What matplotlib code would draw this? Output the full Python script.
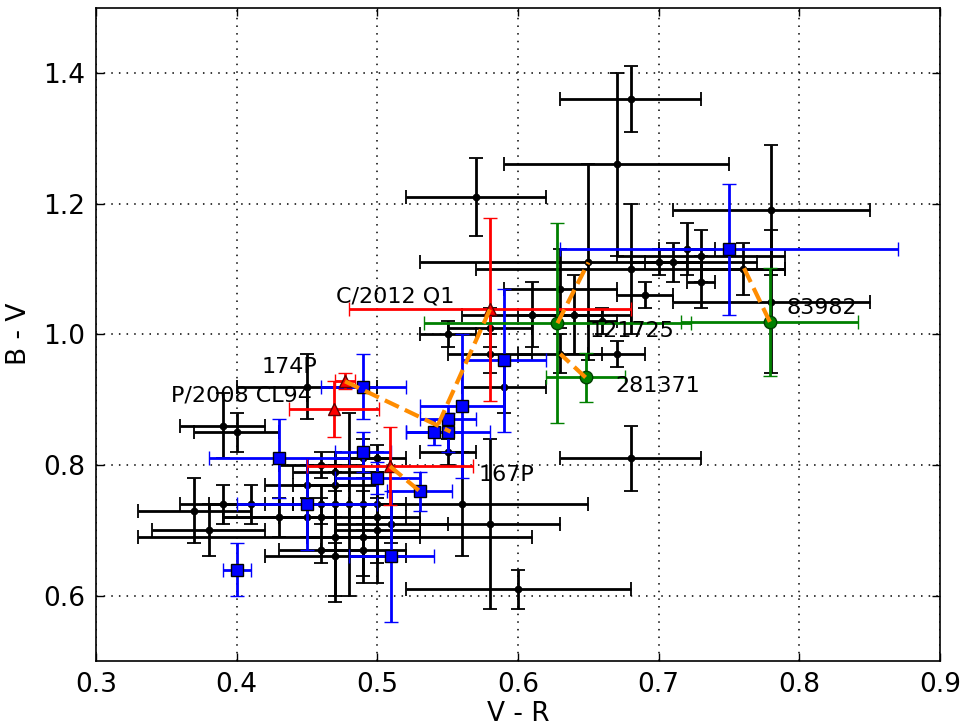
import matplotlib
matplotlib.use("Agg")
import matplotlib.pyplot as plt

# ---------------- data ----------------
# black field objects: x (V-R), y (B-V), xerr, yerr
bx = [0.39, 0.40, 0.37, 0.38, 0.39, 0.41, 0.43, 0.45, 0.46, 0.47, 0.45, 0.47, 0.49, 0.50,
      0.46, 0.47, 0.48, 0.49, 0.50, 0.45, 0.46, 0.50, 0.51, 0.50, 0.47, 0.49, 0.46, 0.49,
      0.47, 0.55, 0.56, 0.58, 0.60, 0.68, 0.59, 0.58, 0.58, 0.55, 0.57, 0.61, 0.63, 0.64,
      0.66, 0.63, 0.67, 0.65, 0.67, 0.68, 0.68, 0.70, 0.71, 0.72, 0.73, 0.73, 0.69, 0.78,
      0.78, 0.76]
by = [0.86, 0.85, 0.73, 0.70, 0.74, 0.74, 0.72, 0.92, 0.80, 0.79, 0.77, 0.77, 0.81, 0.81,
      0.74, 0.74, 0.74, 0.74, 0.74, 0.72, 0.72, 0.72, 0.71, 0.70, 0.69, 0.69, 0.67, 0.67,
      0.66, 0.82, 0.74, 0.71, 0.61, 0.81, 0.92, 0.97, 1.01, 1.00, 1.21, 1.03, 1.07, 1.03,
      1.02, 0.97, 0.97, 1.11, 1.26, 1.36, 1.10, 1.11, 1.11, 1.13, 1.12, 1.08, 1.06, 1.19,
      1.05, 1.10]
bxerr = [0.03, 0.03, 0.04, 0.04, 0.03, 0.03, 0.04, 0.05, 0.03, 0.03, 0.03, 0.03, 0.02, 0.02,
         0.03, 0.03, 0.03, 0.02, 0.02, 0.02, 0.07, 0.02, 0.04, 0.03, 0.14, 0.04, 0.03, 0.03,
         0.05, 0.02, 0.09, 0.05, 0.08, 0.05, 0.03, 0.03, 0.03, 0.02, 0.05, 0.05, 0.04, 0.04,
         0.01, 0.03, 0.02, 0.12, 0.08, 0.05, 0.11, 0.02, 0.02, 0.02, 0.06, 0.01, 0.02, 0.07,
         0.07, 0.03]
byerr = [0.05, 0.03, 0.05, 0.04, 0.03, 0.03, 0.03, 0.05, 0.02, 0.03, 0.03, 0.03, 0.03, 0.02,
         0.03, 0.06, 0.14, 0.04, 0.05, 0.03, 0.03, 0.10, 0.03, 0.05, 0.10, 0.07, 0.02, 0.04,
         0.06, 0.02, 0.08, 0.13, 0.03, 0.05, 0.04, 0.03, 0.03, 0.02, 0.06, 0.05, 0.06, 0.06,
         0.02, 0.03, 0.02, 0.15, 0.14, 0.05, 0.10, 0.02, 0.03, 0.04, 0.04, 0.04, 0.02, 0.10,
         0.11, 0.04]

# blue squares
sx = [0.40, 0.43, 0.45, 0.49, 0.49, 0.50, 0.53, 0.51, 0.54, 0.55, 0.55, 0.56, 0.59, 0.75]
sy = [0.64, 0.81, 0.74, 0.92, 0.82, 0.78, 0.76, 0.66, 0.85, 0.85, 0.87, 0.89, 0.96, 1.13]
sxerr = [0.01, 0.05, 0.05, 0.03, 0.02, 0.03, 0.023, 0.03, 0.02, 0.03, 0.02, 0.03, 0.03, 0.12]
syerr = [0.04, 0.06, 0.07, 0.05, 0.03, 0.025, 0.03, 0.10, 0.02, 0.03, 0.02, 0.11, 0.11, 0.10]

# red triangles (comets)
tname = ["174P", "P/2008 CL94", "167P", "C/2012 Q1"]
tx = [0.477, 0.469, 0.509, 0.580]
ty = [0.928, 0.886, 0.798, 1.038]
txerr = [0.007, 0.032, 0.059, 0.10]
tyerr = [0.012, 0.043, 0.060, 0.14]
tlabx = [0.418, 0.3535, 0.572, 0.4705]
tlaby = [0.940, 0.897, 0.775, 1.049]

# green circles
gname = ["121725", "281371", "83982"]
gx = [0.628, 0.648, 0.779]
gy = [1.017, 0.934, 1.019]
gxerr = [0.095, 0.028, 0.063]
gyerr = [0.153, 0.037, 0.083]
glabx = [0.6505, 0.669, 0.7905]
glaby = [0.996, 0.911, 1.031]

# orange dashed links: (x0, y0) -> (x1, y1)
lx0 = [0.779, 0.628, 0.648, 0.580, 0.477, 0.509]
ly0 = [1.019, 1.017, 0.934, 1.038, 0.928, 0.798]
lx1 = [0.760, 0.650, 0.630, 0.542, 0.552, 0.530]
ly1 = [1.104, 1.110, 0.970, 0.856, 0.851, 0.760]

xticks = [0.3, 0.4, 0.5, 0.6, 0.7, 0.8, 0.9]
yticks = [0.6, 0.8, 1.0, 1.2, 1.4]

# ---------------- plot ----------------
fig = plt.figure(figsize=(9.63, 7.25), dpi=100)
ax = fig.add_axes([0.0997, 0.0883, 0.8765, 0.9012])

common = dict(elinewidth=2, capsize=5, capthick=1.3, linestyle='none')

ax.errorbar(bx, by, xerr=bxerr, yerr=byerr, fmt='o', color='k', ms=4.5,
            ecolor='k', zorder=2, **common)
ax.errorbar(sx, sy, xerr=sxerr, yerr=syerr, fmt='s', mfc='#0000ff', mec='k', mew=1,
            ms=9, ecolor='#0000ff', zorder=3, **common)
ax.errorbar(tx, ty, xerr=txerr, yerr=tyerr, fmt='^', mfc='#ff0000', mec='#600000', mew=1,
            ms=9, ecolor='#ff0000', zorder=3, **common)
ax.errorbar(gx, gy, xerr=gxerr, yerr=gyerr, fmt='o', mfc='#008000', mec='#004000', mew=1,
            ms=9, ecolor='#008000', zorder=3, **common)

for a, b, c, d in zip(lx0, ly0, lx1, ly1):
    ax.plot([a, c], [b, d], '--', color='#ff8c00', lw=3, zorder=5)

for n, x, y in zip(tname, tlabx, tlaby):
    ax.text(x, y, n, fontsize=16, ha='left', va='baseline', zorder=6)
for n, x, y in zip(gname, glabx, glaby):
    ax.text(x, y, n, fontsize=16, ha='left', va='baseline', zorder=6)

ax.set_xlim(0.3, 0.9)
ax.set_ylim(0.5, 1.5)
ax.set_xticks(xticks)
ax.set_yticks(yticks)
ax.set_xticklabels([f"{v:.1f}" for v in xticks])
ax.set_yticklabels([f"{v:.1f}" for v in yticks])
ax.tick_params(direction='in', length=6, width=1, top=True, right=True,
               labelsize=19, pad=8)
ax.grid(True, color='k', linestyle=(0, (1, 4)), linewidth=1.1)
ax.set_axisbelow(True)
for s in ax.spines.values():
    s.set_linewidth(1.2)
ax.set_xlabel("V - R", fontsize=19, labelpad=2)
ax.set_ylabel("B - V", fontsize=19, labelpad=8)

fig.savefig("out.png", dpi=100)
